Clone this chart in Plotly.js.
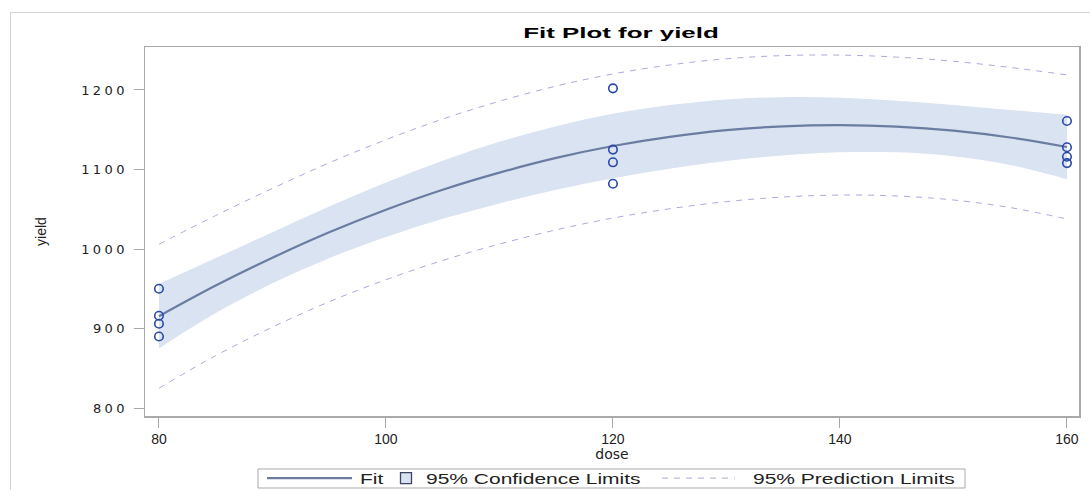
<!DOCTYPE html>
<html>
<head>
<meta charset="utf-8">
<script src="https://cdn.plot.ly/plotly-3.0.1.min.js"></script>
<style>
html,body{margin:0;padding:0;background:#fff;}
#frame{position:absolute;left:10px;top:12px;width:1080px;height:478px;border-top:1px solid #d4d4d4;border-left:1px solid #d4d4d4;pointer-events:none;z-index:5;}
#chart{position:absolute;left:0;top:0;width:1090px;height:490px;}
.ytick text{letter-spacing:3.4px;}
.gtitle{transform-box:fill-box;transform-origin:center;transform:scaleX(1.85);}
.legend text,.legend2 text,.legend3 text{transform-box:fill-box;transform-origin:left center;transform:scaleX(1.5);}
.legend .scrollbox,.legend2 .scrollbox,.legend3 .scrollbox{clip-path:none;}
.legend .legendlines path{d:path("M5,0h85");}
.legend3 .legendlines path{d:path("M5,0h73");}
</style>
</head>
<body>
<div id="chart"></div>
<div id="frame"></div>
<script>
// observed data
var obsDose  = [80, 80, 80, 80, 120, 120, 120, 120, 160, 160, 160, 160];
var obsYield = [950, 916, 906, 890, 1202, 1125, 1109, 1082, 1161, 1128, 1116, 1108];

// fitted curve and limits
var gridDose = [80, 85, 90, 95, 100, 105, 110, 115, 120, 125, 130, 135, 140, 145, 150, 155, 160];
var fitYield = [915.5, 954, 989, 1021, 1049.4, 1074.5, 1096, 1114.5, 1129.5, 1141, 1149.4, 1154.3, 1155.8, 1154, 1148.8, 1140.2, 1128.3];
var clLower  = [875, 919.4, 956.8, 988.5, 1015.1, 1037.9, 1057.3, 1074.5, 1089, 1101, 1110.7, 1117.7, 1121.5, 1121.5, 1116.6, 1105.6, 1087.8];
var clUpper  = [956, 988.6, 1021.2, 1053.5, 1083.7, 1111.1, 1134.7, 1154.5, 1170, 1181, 1188.1, 1190.9, 1190.1, 1186.5, 1181, 1174.8, 1168.8];
var plLower  = [825, 865.9, 901.8, 933.7, 961.4, 985.6, 1006.2, 1024.1, 1038.9, 1050.6, 1059.6, 1065.4, 1067.8, 1066.7, 1061.6, 1052.1, 1037.7];
var plUpper  = [1006, 1042.1, 1076.2, 1108.3, 1137.4, 1163.4, 1185.8, 1204.9, 1220.1, 1231.4, 1239.2, 1243.2, 1243.8, 1241.3, 1236, 1228.3, 1218.9];

var xTicks = [80, 100, 120, 140, 160];
var yTicks = [800, 900, 1000, 1100, 1200];

var bandColor = 'rgb(218,227,241)';
var fitColor = 'rgb(106,124,161)';
var predColor = 'rgb(170,170,220)';
var pointColor = 'rgb(40,72,170)';

var traces = [
  {x: gridDose, y: clLower, type: 'scatter', mode: 'lines', line: {width: 0, color: bandColor, shape: 'spline'}, showlegend: false, hoverinfo: 'skip'},
  {x: gridDose, y: clUpper, type: 'scatter', mode: 'lines', fill: 'tonexty', fillcolor: bandColor,
   line: {width: 0, color: bandColor, shape: 'spline'}, showlegend: false},
  {x: gridDose, y: fitYield, type: 'scatter', mode: 'lines', line: {width: 2.2, color: fitColor, shape: 'spline'}, name: 'Fit', legend: 'legend', showlegend: true},
  // legend entry for the confidence band (no data of its own)
  {x: [null], y: [null], type: 'scatter', mode: 'markers', name: '95% Confidence Limits', legend: 'legend2', showlegend: true,
   marker: {symbol: 'square', size: 11, color: bandColor, line: {width: 1.3, color: 'rgb(60,70,100)'}}},
  {x: gridDose, y: plUpper, type: 'scatter', mode: 'lines', line: {width: 1, color: predColor, dash: '6px,6px', shape: 'spline'}, name: '95% Prediction Limits', legend: 'legend3', showlegend: true},
  {x: gridDose, y: plLower, type: 'scatter', mode: 'lines', line: {width: 1, color: predColor, dash: '6px,6px', shape: 'spline'}, showlegend: false},
  {x: obsDose, y: obsYield, type: 'scatter', mode: 'markers', marker: {symbol: 'circle-open', size: 8.5, color: pointColor, line: {width: 1.6, color: pointColor}}, showlegend: false}
];

var axisCommon = {
  showline: true, mirror: true, linecolor: '#a9a9a9', linewidth: 1.5,
  ticks: 'outside', ticklen: 10, tickcolor: '#a9a9a9', tickwidth: 1,
  showgrid: false, zeroline: false,
  tickfont: {family: 'Liberation Sans, Arial, sans-serif', size: 14, color: '#222'}
};

var legendFont = {family: 'Liberation Sans, Arial, sans-serif', size: 14, color: '#222'};
function legendAt(xPx, itemW) {
  return {orientation: 'h', x: xPx / 1090, xref: 'container', xanchor: 'left',
          y: (490 - 478.5) / 490, yref: 'container', yanchor: 'middle',
          borderwidth: 0, bgcolor: 'rgba(0,0,0,0)', font: legendFont, itemwidth: itemW};
}

var layout = {
  width: 1090, height: 490,
  paper_bgcolor: 'rgba(0,0,0,0)', plot_bgcolor: '#fff',
  margin: {l: 145, r: 11, t: 47, b: 74},
  title: {text: '<b>Fit Plot for yield</b>', x: 621 / 1090, xanchor: 'center', y: 1 - 33 / 490, yanchor: 'middle',
          font: {family: 'Liberation Sans, Arial, sans-serif', size: 14, color: '#000'}},
  xaxis: Object.assign({}, axisCommon, {
    range: [78.77, 161.06], tickvals: xTicks, ticktext: xTicks.map(String),
    title: {text: 'dose', standoff: 13, font: {family: 'DejaVu Sans, sans-serif', size: 14, color: '#222'}}
  }),
  yaxis: Object.assign({}, axisCommon, {
    range: [790, 1254], tickvals: yTicks, ticktext: yTicks.map(String),
    ticklabelstandoff: 3,
    tickfont: {family: 'DejaVu Sans, sans-serif', size: 13, color: '#222'},
    title: {text: 'yield', standoff: 31, font: {family: 'Liberation Sans Narrow, Liberation Sans, sans-serif', size: 14, color: '#222'}}
  }),
  showlegend: true,
  legend: legendAt(262, 88),
  legend2: legendAt(386, 30),
  legend3: legendAt(657, 86),
  shapes: [{type: 'rect', xref: 'paper', yref: 'paper', x0: 113 / 934, x1: 820 / 934, y0: (416 - 488) / 369, y1: (416 - 469) / 369,
            line: {color: '#a9a9a9', width: 1}, fillcolor: 'rgba(0,0,0,0)', layer: 'above'}]
};

Plotly.newPlot('chart', traces, layout, {displayModeBar: false, staticPlot: true});
</script>
</body>
</html>
